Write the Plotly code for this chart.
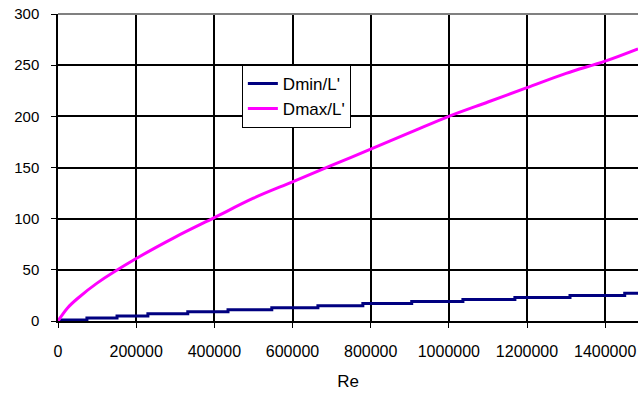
import plotly.graph_objects as go

# Data
re_max = [0, 25000, 50000, 100000, 200000, 300000, 400000, 500000, 600000, 700000,
          800000, 900000, 1000000, 1100000, 1200000, 1300000, 1400000, 1484000]
dmax_l = [0, 13, 22, 37, 61, 82, 101, 120, 136, 152, 168, 184, 200, 214, 228, 242, 254, 266]

re_min = [0, 74000, 151000, 230000, 332000, 435000, 547000, 665000, 780000, 905000,
          1036000, 1169000, 1310000, 1450000, 1484000]
dmin_l = [1, 3, 5, 7, 9, 11, 13, 15, 17, 19, 21, 23, 25, 27, 27]

x_ticks = [0, 200000, 400000, 600000, 800000, 1000000, 1200000, 1400000]
y_ticks = [0, 50, 100, 150, 200, 250, 300]

FONT = "Liberation Sans, Arial, sans-serif"

fig = go.Figure()
fig.add_trace(go.Scatter(x=re_min, y=dmin_l, mode="lines", name="Dmin/L'",
                         line=dict(color="#000080", width=3, shape="hv")))
fig.add_trace(go.Scatter(x=re_max, y=dmax_l, mode="lines", name="Dmax/L'",
                         line=dict(color="#FF00FF", width=3, shape="spline")))

fig.update_layout(
    width=638, height=394,
    margin=dict(l=58, r=0, t=14, b=73),
    paper_bgcolor="white", plot_bgcolor="white",
    font=dict(family=FONT, color="black"),
    showlegend=True,
    legend=dict(x=0.317, y=0.834, xanchor="left", yanchor="top",
                bgcolor="white", bordercolor="black", borderwidth=1,
                font=dict(size=17, family=FONT, color="black"),
                tracegroupgap=0, itemwidth=30),
    xaxis=dict(range=[0, 1484000], tickvals=x_ticks, tickformat="d",
               showgrid=True, gridcolor="black", gridwidth=1.5,
               showline=True, linecolor="black", linewidth=1.5,
               ticks="outside", ticklen=5, tickcolor="black",
               ticklabelstandoff=10,
               tickfont=dict(size=16, family=FONT, color="black"),
               title=dict(text="Re", font=dict(size=17, family=FONT, color="black"), standoff=16),
               zeroline=False),
    yaxis=dict(range=[0, 300], tickvals=y_ticks,
               showgrid=True, gridcolor="black", gridwidth=1.5,
               showline=True, linecolor="black", linewidth=1.5,
               ticks="outside", ticklen=5, tickcolor="black",
               ticklabelstandoff=9,
               tickfont=dict(size=15, family=FONT, color="black"),
               zeroline=False),
    shapes=[dict(type="line", xref="paper", yref="paper", x0=0, x1=1, y0=1, y1=1,
                 line=dict(color="#808080", width=2), layer="above")],
)

fig.write_html("out.html")
